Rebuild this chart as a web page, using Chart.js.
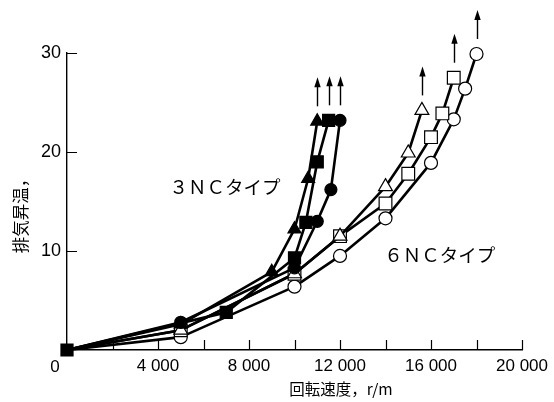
<!DOCTYPE html>
<html>
<head>
<meta charset="utf-8">
<script src="https://cdn.jsdelivr.net/npm/chart.js@4/dist/chart.umd.min.js"></script>
<style>
  html, body { margin: 0; padding: 0; background: #fff; }
  #wrap { width: 554px; height: 402px; }
</style>
</head>
<body>
<div id="wrap"><canvas id="c" width="554" height="402"></canvas></div>
<script>
// Exhaust temperature rise vs. rotational speed, 3NC and 6NC types
const speed3Tri = [0, 5000, 9000, 10000, 10600, 11000];
const temp3Tri  = [0, 2.6, 7.9, 12.2, 17.3, 23.1];
const speed3Sq  = [0, 7000, 10000, 10500, 11000, 11500];
const temp3Sq   = [0, 3.8, 9.3, 12.9, 19.0, 23.2];
const speed3Ci  = [0, 5000, 10000, 11000, 11600, 12000];
const temp3Ci   = [0, 2.8, 8.3, 13.0, 16.2, 23.2];

const speed6Tri = [0, 5000, 10000, 12000, 14000, 15000, 15600];
const temp6Tri  = [0, 2.0, 7.7, 11.5, 16.5, 19.9, 24.2];
const speed6Sq  = [0, 5000, 10000, 12000, 14000, 15000, 16000, 16500, 17000];
const temp6Sq   = [0, 2.0, 7.7, 11.5, 14.8, 17.8, 21.5, 23.9, 27.5];
const speed6Ci  = [0, 5000, 10000, 12000, 14000, 16000, 17000, 17500, 18000];
const temp6Ci   = [0, 1.3, 6.4, 9.5, 13.3, 18.9, 23.3, 26.4, 29.9];

const xTickValues = [4000, 8000, 12000, 16000, 20000];
const yTickValues = [10, 20, 30];
const typeLabels  = ['３ＮＣタイプ', '６ＮＣタイプ'];
const xTitle = '回転速度，r/m';
const yTitle = '排気昇温，';

const pts = (xs, ys) => xs.map((v, i) => ({ x: v, y: ys[i] }));
const fmt = v => String(v).replace(/\B(?=(\d{3})+(?!\d))/g, ' ');

function series(label, xs, ys, style, radius, filled, showOrigin) {
  return {
    label,
    data: pts(xs, ys),
    borderColor: '#000',
    borderWidth: 2.6,
    pointStyle: style,
    pointRadius: c => (c.dataIndex === 0 && !showOrigin) ? 0 : radius,
    pointHoverRadius: c => (c.dataIndex === 0 && !showOrigin) ? 0 : radius,
    pointBackgroundColor: filled ? '#000' : '#fff',
    pointBorderColor: '#000',
    pointBorderWidth: 1.2,
    tension: 0,
    fill: false
  };
}

const NUM_FAMILY = '"Liberation Sans", Arial, sans-serif';
const JP_FONT = '"Noto Sans CJK JP", "Noto Sans", sans-serif';

const decor = {
  id: 'decor',
  afterDraw(chart) {
    const { ctx } = chart;
    const x = chart.scales.x, y = chart.scales.y;
    ctx.save();
    ctx.strokeStyle = '#000';
    ctx.fillStyle = '#000';

    // inward tick marks
    ctx.lineWidth = 1.2;
    ctx.beginPath();
    for (let v = 2000; v <= 20000; v += 2000) {
      const px = Math.round(x.getPixelForValue(v)) + 0.5;
      ctx.moveTo(px, y.bottom);
      ctx.lineTo(px, y.bottom - 10);
    }
    yTickValues.forEach(v => {
      const py = Math.round(y.getPixelForValue(v)) + 0.5;
      ctx.moveTo(x.left, py);
      ctx.lineTo(x.left + 10, py);
    });
    ctx.stroke();

    // shared origin label
    ctx.font = '17px ' + NUM_FAMILY;
    ctx.textAlign = 'center';
    ctx.textBaseline = 'middle';
    ctx.fillText('0', x.left - 12, y.bottom + 17);

    // upward arrows above the last point of each series (still rising)
    chart.data.datasets.forEach((ds, i) => {
      const meta = chart.getDatasetMeta(i);
      const last = meta.data[meta.data.length - 1];
      const ax = Math.round(last.x) + 0.5;
      const y0 = last.y - 15, y1 = last.y - 44;
      ctx.lineWidth = 1.4;
      ctx.beginPath();
      ctx.moveTo(ax, y0);
      ctx.lineTo(ax, y1 + 8);
      ctx.stroke();
      ctx.beginPath();
      ctx.moveTo(ax, y1);
      ctx.lineTo(ax - 3.2, y1 + 10);
      ctx.lineTo(ax + 3.2, y1 + 10);
      ctx.closePath();
      ctx.fill();
    });

    // type labels
    ctx.font = '18.5px ' + JP_FONT;
    ctx.textAlign = 'left';
    ctx.fillText(typeLabels[0], x.getPixelForValue(4500), y.getPixelForValue(16.5));
    ctx.fillText(typeLabels[1], x.getPixelForValue(13950), y.getPixelForValue(9.6));

    // axis titles
    ctx.font = '15.5px ' + JP_FONT;
    ctx.textAlign = 'center';
    ctx.fillText(xTitle, 341, 389);
    ctx.font = '16.5px ' + JP_FONT;
    ctx.save();
    ctx.translate(21, 212);
    ctx.rotate(-Math.PI / 2);
    ctx.fillText(yTitle, 0, 0);
    ctx.restore();

    ctx.restore();
  }
};

new Chart(document.getElementById('c'), {
  type: 'line',
  data: {
    datasets: [
      series('3NC ■', speed3Sq, temp3Sq, 'rect', 8.5, true, true),
      series('3NC ●', speed3Ci, temp3Ci, 'circle', 6, true, false),
      series('3NC ▲', speed3Tri, temp3Tri, 'triangle', 7.5, true, false),
      series('6NC △', speed6Tri, temp6Tri, 'triangle', 8, false, false),
      series('6NC □', speed6Sq, temp6Sq, 'rect', 9, false, false),
      series('6NC ○', speed6Ci, temp6Ci, 'circle', 6.5, false, false)
    ]
  },
  options: {
    responsive: false,
    animation: false,
    devicePixelRatio: 1,
    layout: { padding: { left: 0, right: 32, top: 53, bottom: 0 } },
    plugins: { legend: { display: false }, tooltip: { enabled: false } },
    elements: { line: { borderCapStyle: 'round', borderJoinStyle: 'round' } },
    clip: false,
    scales: {
      x: {
        type: 'linear',
        min: 0, max: 20000,
        afterFit: s => { s.height = 52; },
        afterBuildTicks: s => { s.ticks = xTickValues.map(v => ({ value: v })); },
        grid: { display: false, drawTicks: false },
        border: { display: true, color: '#000', width: 1.4 },
        ticks: {
          color: '#000',
          font: { family: NUM_FAMILY, size: 17 },
          padding: 6,
          maxRotation: 0,
          autoSkip: false,
          callback: v => fmt(v)
        }
      },
      y: {
        type: 'linear',
        min: 0, max: 30,
        afterFit: s => { s.width = 67; },
        afterBuildTicks: s => { s.ticks = yTickValues.map(v => ({ value: v })); },
        grid: { display: false, drawTicks: false },
        border: { display: true, color: '#000', width: 1.4 },
        ticks: {
          color: '#000',
          font: { family: NUM_FAMILY, size: 18 },
          padding: 6,
          callback: v => String(v)
        }
      }
    }
  },
  plugins: [decor]
});
</script>
</body>
</html>
